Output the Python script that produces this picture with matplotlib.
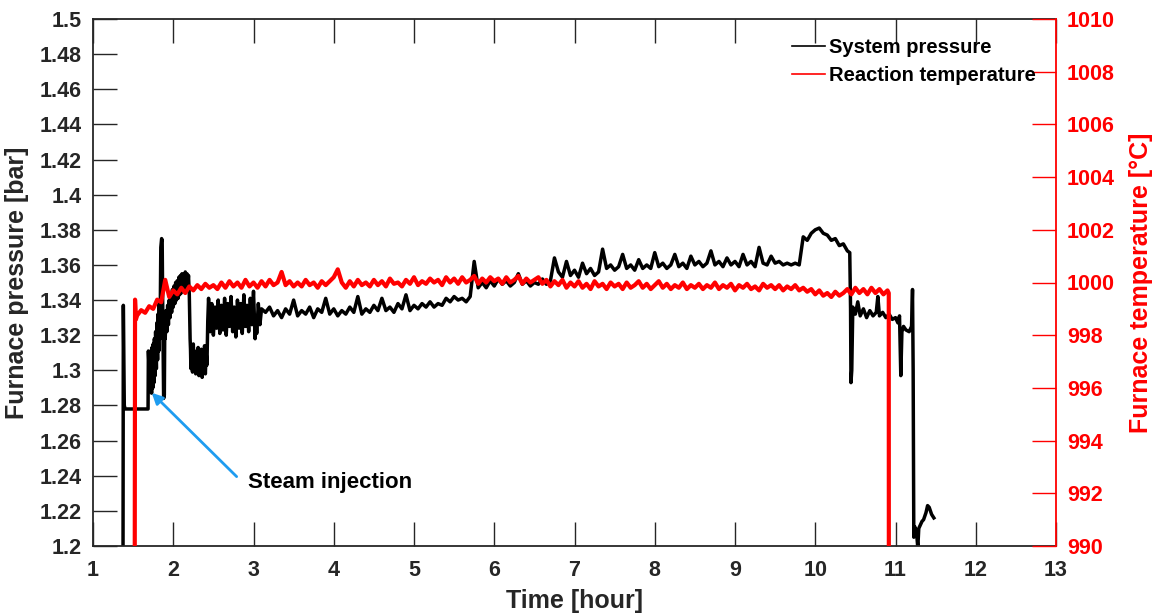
import numpy as np
import matplotlib
matplotlib.use('Agg')
import matplotlib.pyplot as plt
from matplotlib.lines import Line2D
from matplotlib.ticker import FuncFormatter

plt.rcParams['font.family'] = ['Liberation Sans', 'DejaVu Sans']
plt.rcParams['font.weight'] = 'bold'
plt.rcParams['axes.labelweight'] = 'bold'

# ---- system pressure [bar] ----
# start-up, steam injection and first hour (read point by point)
p_head_t = [1.374, 1.378, 1.390, 1.400, 1.686, 1.690, 1.700, 1.705, 1.715, 1.720,
            1.730, 1.735, 1.745, 1.750, 1.760, 1.765, 1.775, 1.780, 1.790, 1.795,
            1.805, 1.810, 1.820, 1.825, 1.835, 1.845, 1.855, 1.862, 1.870, 1.880,
            1.889, 1.895, 1.90, 1.91, 1.92, 1.93, 1.94, 1.95, 1.96, 1.97,
            1.98, 1.99, 2.00, 2.01, 2.02, 2.03, 2.04, 2.05, 2.06, 2.07,
            2.08, 2.09, 2.10, 2.11, 2.12, 2.13, 2.14, 2.15, 2.16, 2.17,
            2.18, 2.19, 2.20, 2.21, 2.215, 2.22, 2.23, 2.24, 2.25, 2.26,
            2.27, 2.28, 2.29, 2.30, 2.31, 2.32, 2.33, 2.34, 2.35, 2.36,
            2.37, 2.38, 2.39, 2.40, 2.41, 2.42, 2.43, 2.44, 2.46, 2.48,
            2.50, 2.52, 2.54, 2.56, 2.58, 2.60, 2.62, 2.64, 2.66, 2.68,
            2.70, 2.72, 2.74, 2.76, 2.78, 2.80, 2.82, 2.84, 2.86, 2.88,
            2.90, 2.92, 2.94, 2.96, 2.98, 3.00, 3.02, 3.03, 3.04, 3.06,
            3.08, 3.10]
p_head_v = [1.190, 1.337, 1.280, 1.278, 1.278, 1.311, 1.300, 1.309, 1.293, 1.311,
            1.287, 1.313, 1.290, 1.315, 1.293, 1.318, 1.297, 1.322, 1.301, 1.327,
            1.306, 1.332, 1.311, 1.338, 1.318, 1.370, 1.375, 1.374, 1.330, 1.284,
            1.286, 1.330, 1.318, 1.334, 1.322, 1.337, 1.326, 1.340, 1.330, 1.343,
            1.333, 1.346, 1.336, 1.348, 1.338, 1.350, 1.340, 1.351, 1.341, 1.353,
            1.343, 1.354, 1.344, 1.355, 1.345, 1.354, 1.346, 1.356, 1.347, 1.355,
            1.348, 1.354, 1.343, 1.318, 1.312, 1.301, 1.310, 1.299, 1.315, 1.302,
            1.309, 1.298, 1.311, 1.300, 1.313, 1.297, 1.308, 1.299, 1.312, 1.296,
            1.309, 1.300, 1.314, 1.298, 1.310, 1.303, 1.328, 1.341, 1.322, 1.338,
            1.320, 1.336, 1.324, 1.340, 1.321, 1.337, 1.323, 1.341, 1.320, 1.338,
            1.325, 1.342, 1.322, 1.336, 1.319, 1.340, 1.324, 1.338, 1.321, 1.343,
            1.325, 1.337, 1.322, 1.341, 1.326, 1.345, 1.318, 1.330, 1.321, 1.338,
            1.326, 1.335]

# steady run, one reading every 0.05 h from 3.15 h
p_body_start = 3.15
p_body_v = [
    1.333, 1.336, 1.331, 1.334, 1.330, 1.335, 1.332, 1.340, 1.331, 1.334,
    1.332, 1.336, 1.330, 1.335, 1.333, 1.341, 1.332, 1.335, 1.331, 1.334,
    1.332, 1.336, 1.333, 1.342, 1.332, 1.335, 1.333, 1.337, 1.334, 1.341,
    1.334, 1.336, 1.333, 1.338, 1.335, 1.343, 1.334, 1.337, 1.335, 1.338,
    1.336, 1.339, 1.336, 1.338, 1.337, 1.341, 1.339, 1.342, 1.340, 1.341,
    1.339, 1.342, 1.362, 1.347, 1.350, 1.347, 1.351, 1.348, 1.352, 1.349,
    1.351, 1.348, 1.350, 1.355, 1.349, 1.351, 1.348, 1.350, 1.349, 1.352,
    1.349, 1.351, 1.364, 1.356, 1.353, 1.362, 1.354, 1.357, 1.353, 1.361,
    1.355, 1.358, 1.354, 1.356, 1.369, 1.358, 1.360, 1.357, 1.359, 1.366,
    1.358, 1.360, 1.357, 1.363, 1.358, 1.360, 1.358, 1.367, 1.359, 1.361,
    1.358, 1.360, 1.366, 1.359, 1.361, 1.358, 1.365, 1.360, 1.362, 1.359,
    1.361, 1.368, 1.360, 1.362, 1.359, 1.364, 1.360, 1.362, 1.359, 1.366,
    1.360, 1.362, 1.359, 1.370, 1.361, 1.360, 1.365, 1.361, 1.362, 1.360,
    1.361, 1.360, 1.361, 1.360, 1.376, 1.374, 1.378, 1.380, 1.381, 1.378,
    1.377, 1.374, 1.375, 1.371, 1.372, 1.368]

# shut-down
p_tail_t = [10.43, 10.440, 10.445, 10.455, 10.468, 10.50, 10.53, 10.56, 10.60, 10.64,
            10.68, 10.72, 10.76, 10.78, 10.80, 10.84, 10.88, 10.92, 10.96, 11.00,
            11.03, 11.05, 11.066, 11.08, 11.10, 11.13, 11.17, 11.20, 11.212, 11.22,
            11.228, 11.24, 11.25, 11.26, 11.278, 11.29, 11.31, 11.33, 11.35, 11.38,
            11.40, 11.42, 11.45, 11.478]
p_tail_v = [1.367, 1.335, 1.293, 1.300, 1.336, 1.332, 1.339, 1.331, 1.335, 1.330,
            1.334, 1.331, 1.333, 1.342, 1.331, 1.333, 1.330, 1.332, 1.329, 1.330,
            1.327, 1.331, 1.297, 1.322, 1.325, 1.323, 1.322, 1.325, 1.346, 1.300,
            1.205, 1.211, 1.206, 1.209, 1.199, 1.210, 1.212, 1.214, 1.215, 1.219,
            1.223, 1.222, 1.218, 1.216]

# ---- reaction temperature [°C] ----
t_head_t = [1.520, 1.524, 1.535]
t_head_v = [989.0, 999.35, 998.6]
t_body_start = 1.55
t_body_v = [
    998.75, 998.95, 998.85, 999.1, 999.0, 999.35, 999.25, 1000.1, 999.45, 999.7,
    999.55, 999.8, 999.6, 999.85, 999.7, 999.9, 999.75, 999.95, 999.8, 999.9,
    999.75, 1000.0, 999.8, 1000.05, 999.85, 1000.0, 999.8, 1000.1, 999.85, 1000.0,
    999.8, 1000.05, 999.85, 1000.1, 999.9, 1000.0, 1000.4, 999.9, 1000.05, 999.85,
    1000.0, 999.85, 1000.1, 999.9, 1000.0, 999.8, 1000.05, 999.9, 1000.05, 1000.2,
    1000.5, 1000.0, 999.8, 1000.05, 999.85, 1000.1, 999.9, 1000.0, 999.85, 1000.1,
    999.9, 1000.05, 999.85, 1000.15, 999.95, 1000.0, 999.85, 1000.1, 999.95, 1000.2,
    999.9, 1000.05, 999.95, 1000.15, 1000.0, 1000.1, 999.9, 1000.2, 1000.0, 1000.15,
    999.95, 1000.2, 1000.0, 1000.1, 1000.25, 999.95, 1000.15, 1000.0, 1000.2, 1000.05,
    1000.15, 999.95, 1000.2, 1000.0, 1000.1, 1000.25, 999.95, 1000.15, 1000.0, 1000.1,
    1000.2, 999.95, 1000.1, 999.85, 1000.05, 999.9, 1000.1, 999.8, 1000.0, 999.85,
    1000.05, 999.8, 999.95, 999.75, 1000.05, 999.85, 999.95, 999.75, 1000.0, 999.85,
    999.95, 999.75, 1000.0, 999.8, 999.9, 1000.05, 999.8, 999.95, 999.75, 999.9,
    1000.05, 999.8, 999.95, 999.75, 999.9, 999.8, 1000.0, 999.75, 999.9, 999.8,
    999.95, 999.75, 999.9, 999.8, 1000.0, 999.75, 999.9, 999.8, 999.95, 999.7,
    999.9, 999.8, 999.95, 999.75, 999.85, 999.7, 999.95, 999.8, 999.9, 999.75,
    999.9, 999.7, 999.85, 999.75, 999.9, 999.7, 999.8, 999.65, 999.75, 999.55,
    999.7, 999.5, 999.6, 999.45, 999.65, 999.5, 999.6, 999.75, 999.55, 999.8,
    999.6, 999.75, 999.55, 999.8, 999.6, 999.75, 999.55, 999.7]
t_tail_t = [10.916, 10.917]
t_tail_v = [999.6, 989.0]

x_ticks = list(range(1, 14))
p_ticks = [1.2 + 0.02 * i for i in range(16)]
t_ticks = list(range(990, 1011, 2))

# assemble series
p_time = np.concatenate([p_head_t,
                         p_body_start + 0.05 * np.arange(len(p_body_v)),
                         p_tail_t])
pressure = np.concatenate([p_head_v, p_body_v, p_tail_v])
t_time = np.concatenate([t_head_t,
                         t_body_start + 0.05 * np.arange(len(t_body_v)),
                         t_tail_t])
temperature = np.concatenate([t_head_v, t_body_v, t_tail_v])

dark = '#262626'
red = '#ff0000'

fig = plt.figure(figsize=(11.55, 6.14), dpi=100)
ax = fig.add_axes([93 / 1155, 1 - 546 / 614, 963 / 1155, 527 / 614])
ax2 = ax.twinx()

ax.plot(p_time, pressure, color='black', lw=2.5)
ax2.plot(t_time, temperature, color=red, lw=3.0)

ax.set_xlim(1, 13)
ax.set_ylim(1.2, 1.5)
ax2.set_ylim(990, 1010)
ax.set_xticks(x_ticks)
ax.set_yticks(p_ticks)
ax2.set_yticks(t_ticks)
ax.yaxis.set_major_formatter(FuncFormatter(lambda v, _: f'{v:g}'))

ax.tick_params(axis='both', direction='in', length=17, width=1.0,
               color=dark, labelcolor=dark, labelsize=15.5, pad=8)
ax.tick_params(axis='x', top=True, pad=10)
ax2.tick_params(axis='y', direction='in', length=17, width=1.0,
                color=red, labelcolor=red, labelsize=15.5, pad=8)

for side in ['left', 'bottom', 'top']:
    ax.spines[side].set_color(dark)
    ax.spines[side].set_linewidth(1.3)
    ax2.spines[side].set_visible(False)
ax.spines['right'].set_visible(False)
ax2.spines['right'].set_color(red)
ax2.spines['right'].set_linewidth(1.3)

ax.set_xlabel('Time [hour]', fontsize=18, fontweight='bold', color=dark, labelpad=6)
ax.set_ylabel('Furnace pressure [bar]', fontsize=18, fontweight='bold',
              color=dark, labelpad=8)
ax2.set_ylabel('Furnace temperature [°C]', fontsize=18, fontweight='bold',
               color=red, labelpad=10)

ax2.annotate('', xy=(1.732, 1.2872), xytext=(2.79, 1.2395),
             xycoords=ax.transData, textcoords=ax.transData,
             arrowprops=dict(arrowstyle='-|>', color='#1e9cf0', lw=2,
                             mutation_scale=16, shrinkA=0, shrinkB=0))
ax2.text(2.93, 1.2359, 'Steam injection', fontsize=16, fontweight='bold',
         color='black', va='center', ha='left', transform=ax.transData)

handles = [Line2D([], [], color='black', lw=1.2),
           Line2D([], [], color=red, lw=1.2)]
ax2.legend(handles, ['System pressure', 'Reaction temperature'],
           loc='upper left', bbox_to_anchor=(0.722, 0.972), frameon=False,
           fontsize=14.5, handlelength=1.6, handletextpad=0.2,
           labelspacing=0.45, borderaxespad=0, borderpad=0.2)

fig.savefig('out.png', dpi=100)
